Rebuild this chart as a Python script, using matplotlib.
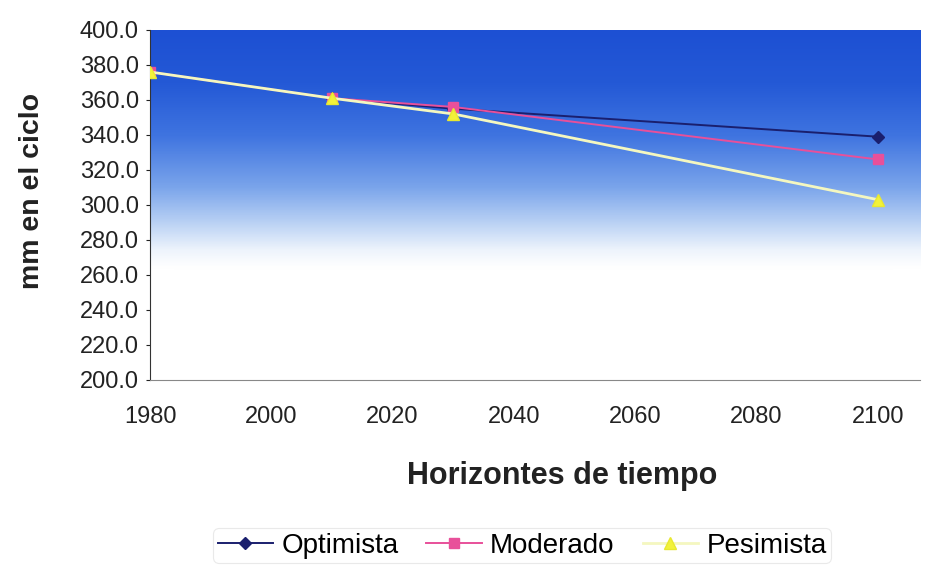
import numpy as np
import matplotlib
matplotlib.use("Agg")
import matplotlib.pyplot as plt
from matplotlib.colors import LinearSegmentedColormap

plt.rcParams['font.family'] = ['Liberation Sans', 'DejaVu Sans']

years = [1980, 2010, 2030, 2100]
optimista = [376, 361, 355, 339]
moderado = [376, 361, 356, 326]
pesimista = [376, 361, 352, 303]
yticks = [200, 220, 240, 260, 280, 300, 320, 340, 360, 380, 400]
xticks = [1980, 2000, 2020, 2040, 2060, 2080, 2100]

fig = plt.figure(figsize=(9.29, 5.66), dpi=100)
ax = fig.add_axes([0.1615, 0.329, 0.829, 0.618])

# background gradient (blue at top -> white)
cmap = LinearSegmentedColormap.from_list(
    "bg",
    [(0.0, "#ffffff"), (0.32, "#ffffff"), (0.37, "#eef4fc"), (0.45, "#b9d1f4"),
     (0.55, "#7ba5eb"), (0.70, "#3f74e0"), (0.85, "#2459d6"), (1.0, "#1d50d3")])
grad = np.linspace(0, 1, 400).reshape(-1, 1)
ax.imshow(grad, extent=[1980, 2107, 200, 400], origin="lower", aspect="auto",
          cmap=cmap, zorder=0, interpolation="bicubic")

ax.plot(years, optimista, color="#1a1f6e", lw=1.4, marker="D", ms=6,
        label="Optimista", zorder=3)
ax.plot(years, moderado, color="#e8509a", lw=1.4, marker="s", ms=7,
        label="Moderado", zorder=3)
ax.plot(years, pesimista, color="#f4f7c0", lw=2.0, marker="^", ms=9,
        markerfacecolor="#f2f23a", markeredgecolor="#e8e830",
        label="Pesimista", zorder=4)

ax.set_xlim(1980, 2107)
ax.set_ylim(200, 400)
ax.set_yticks(yticks)
ax.set_yticklabels([f"{v:.1f}" for v in yticks])
ax.set_xticks(xticks)
ax.tick_params(axis="both", labelsize=17, colors="#222222", length=3)
ax.tick_params(axis="x", length=0, pad=19)
ax.tick_params(axis="y", pad=5)

for s in ["top", "right"]:
    ax.spines[s].set_visible(False)
ax.spines["left"].set_color("#333333")
ax.spines["bottom"].set_color("#888888")

ax.set_ylabel("mm en el ciclo", fontsize=20.5, fontweight="bold", color="#222222")
ax.yaxis.set_label_coords(-0.137, 0.54)
ax.set_xlabel("Horizontes de tiempo", fontsize=22, fontweight="bold",
              color="#222222")
ax.xaxis.set_label_coords(0.535, -0.233)

leg = fig.legend(loc="center", bbox_to_anchor=(0.562, 0.036), ncol=3,
                 fontsize=20, frameon=True, handlelength=2.0, columnspacing=1.0,
                 handletextpad=0.3, borderpad=0.15)
leg.get_frame().set_edgecolor("#e4e4e4")
leg.get_frame().set_linewidth(0.8)

fig.savefig("out.png", dpi=100)
